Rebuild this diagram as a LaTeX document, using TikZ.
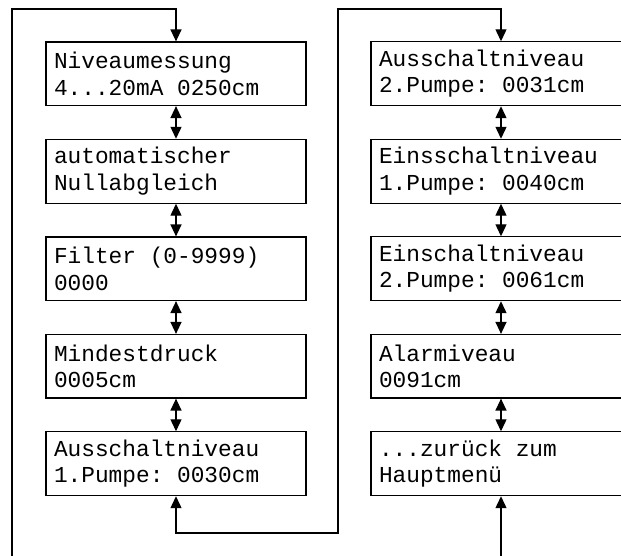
\documentclass[tikz,border=0pt]{standalone}
\usepackage{fontspec}
\setmonofont{Liberation Mono}
\newcommand\msp{\hspace*{0.6em}}
\usetikzlibrary{arrows.meta}
\begin{document}
\begin{tikzpicture}[x=1pt,y=-1pt,
  menubox/.style={draw, line width=1.2pt, minimum width=260pt, minimum height=63.5pt,
    text width=244pt, align=left, inner sep=8pt, font=\ttfamily\fontsize{22.8}{26.5}\selectfont},
  conn/.style={line width=1.3pt, {Triangle[length=12pt,width=11pt]}-{Triangle[length=12pt,width=11pt]}},
  feed/.style={line width=1.3pt, -{Triangle[length=12pt,width=11pt]}}]
\clip (0,0) rectangle (621,556);
\node[menubox] (b1) at (176,73.75) {Niveaumessung\\4...20mA\msp0250cm};
\node[menubox] (b2) at (176,171.25) {automatischer\\Nullabgleich};
\node[menubox] (b3) at (176,268.75) {Filter\msp(0-9999)\\0000};
\node[menubox] (b4) at (176,366.25) {Mindestdruck\\0005cm};
\node[menubox] (b5) at (176,463.75) {Ausschaltniveau\\1.Pumpe:\msp0030cm};
\node[menubox] (b6) at (501,73.75) {Ausschaltniveau\\2.Pumpe:\msp0031cm};
\node[menubox] (b7) at (501,171.25) {Einsschaltniveau\\1.Pumpe:\msp0040cm};
\node[menubox] (b8) at (501,268.75) {Einschaltniveau\\2.Pumpe:\msp0061cm};
\node[menubox] (b9) at (501,366.25) {Alarmiveau\\0091cm};
\node[menubox] (b10) at (501,463.75) {...zurück\msp zum\\Hauptmenü};
\draw[conn] (b1) -- (b2);
\draw[conn] (b2) -- (b3);
\draw[conn] (b3) -- (b4);
\draw[conn] (b4) -- (b5);
\draw[conn] (b6) -- (b7);
\draw[conn] (b7) -- (b8);
\draw[conn] (b8) -- (b9);
\draw[conn] (b9) -- (b10);
\coordinate (lin) at (12,562);
\coordinate (rin) at (501,562);
\draw[feed] (lin) -- (12,9) -| (b1.north);
\draw[feed] (rin) -- (b10.south);
\draw[conn] (b5.south) |- (338,533) -- (338,9) -| (b6.north);
\end{tikzpicture}
\end{document}
